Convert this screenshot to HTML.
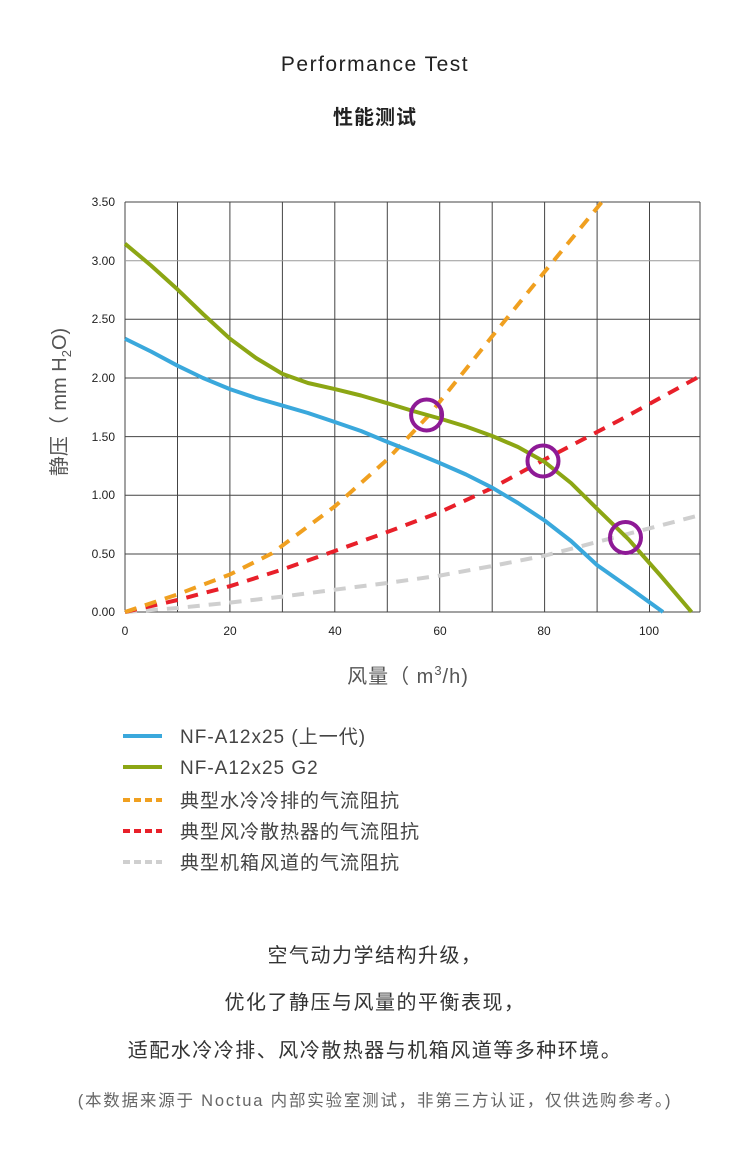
<!DOCTYPE html>
<html><head><meta charset="utf-8"><style>
body{margin:0;background:#fff;width:750px;height:1152px;overflow:hidden;font-family:"Liberation Sans","Noto Sans CJK SC",sans-serif;}
.t{position:absolute;left:0;width:750px;text-align:center;color:#333}
</style></head><body>
<div class="t" style="top:53px;font-size:21px;color:#222;letter-spacing:1.5px">Performance Test</div>
<div class="t" style="top:101px;font-size:20px;font-weight:bold;color:#222;letter-spacing:1px">性能测试</div>
<svg width="750" height="1152" style="position:absolute;left:0;top:0" xmlns="http://www.w3.org/2000/svg">
<g stroke="#444" stroke-width="1">
<line x1="125" y1="202" x2="125" y2="612"/><line x1="177.5" y1="202" x2="177.5" y2="612"/><line x1="229.9" y1="202" x2="229.9" y2="612"/><line x1="282.4" y1="202" x2="282.4" y2="612"/><line x1="334.8" y1="202" x2="334.8" y2="612"/><line x1="387.3" y1="202" x2="387.3" y2="612"/><line x1="439.7" y1="202" x2="439.7" y2="612"/><line x1="492.2" y1="202" x2="492.2" y2="612"/><line x1="544.6" y1="202" x2="544.6" y2="612"/><line x1="597.1" y1="202" x2="597.1" y2="612"/><line x1="649.5" y1="202" x2="649.5" y2="612"/><line x1="700" y1="202" x2="700" y2="612"/>
<line x1="125" y1="202" x2="700" y2="202"/><line x1="125" y1="260.7" x2="700" y2="260.7" stroke="#999"/><line x1="125" y1="319.3" x2="700" y2="319.3"/><line x1="125" y1="378" x2="700" y2="378"/><line x1="125" y1="436.6" x2="700" y2="436.6"/><line x1="125" y1="495.3" x2="700" y2="495.3"/><line x1="125" y1="554" x2="700" y2="554"/><line x1="125" y1="612" x2="700" y2="612"/>
</g>
<g font-size="12" fill="#222" text-anchor="end" font-family="Liberation Sans,sans-serif">
<text x="115" y="206">3.50</text><text x="115" y="265">3.00</text><text x="115" y="323">2.50</text><text x="115" y="382">2.00</text><text x="115" y="441">1.50</text><text x="115" y="499">1.00</text><text x="115" y="558">0.50</text><text x="115" y="616">0.00</text>
</g>
<g font-size="12" fill="#222" text-anchor="middle">
<text x="125" y="635">0</text><text x="230" y="635">20</text><text x="335" y="635">40</text><text x="440" y="635">60</text><text x="544" y="635">80</text><text x="649" y="635">100</text>
</g>
<defs><clipPath id="c"><rect x="124" y="200" width="576" height="414"/></clipPath></defs>
<g clip-path="url(#c)" fill="none" stroke-linecap="butt" stroke-linejoin="round" stroke-width="4">
<polyline stroke="#cfcfcf" stroke-dasharray="12,9" points="125,612 177.5,608 229.9,602.6 282.4,596.6 334.8,589.7 387.3,583 439.7,575.6 492.2,566 544.6,555.7 597.1,542 702,514.6"/>
<polyline stroke="#e8202a" stroke-dasharray="12,9" points="125,612 177.5,600 229.9,586.2 282.4,569.5 334.8,551 387.3,532 439.7,512.3 492.2,488 544.6,459.5 620,420 702,375"/>
<polyline stroke="#f0a020" stroke-dasharray="12,9" points="125,612 177.5,594.4 229.9,574.5 271.9,553.4 334.8,506.4 387.3,459.5 429.2,414.9 492.2,336.3 544.6,271.8 602.3,201.5"/>
<polyline stroke="#3aa8dc" points="125,338.7 151,351.5 177.5,365.7 203,378 229.9,389.1 256,398 282.4,405.6 308,413 334.8,422 361,431 387.3,441.9 413,452 439.7,463 466,474.5 492.2,487.7 518,503 544.6,520.5 571,541 597.1,565.1 631,589 663,612"/>
<polyline stroke="#8ca614" points="125,243.7 151,265.5 177.5,289.4 203,314 229.9,338.7 256,358 282.4,373.9 308,383 334.8,389.1 361,395.5 387.3,403.2 413,411 439.7,418.5 466,426.5 492.2,436 518,447 544.6,461.9 571,483 597.1,508.8 628.5,539.3 660,575 691.5,612"/>
</g>
<g fill="none" stroke="#8e1a96" stroke-width="4">
<circle cx="426.6" cy="415" r="15.5"/><circle cx="543" cy="461" r="15.5"/><circle cx="625.5" cy="537.5" r="15.5"/>
</g>
<text transform="translate(66,402) rotate(-90)" text-anchor="middle" font-size="20" fill="#555">静压（ mm H<tspan font-size="13" dy="5">2</tspan><tspan dy="-5">O)</tspan></text>
<text x="408" y="683" text-anchor="middle" font-size="20" fill="#555" letter-spacing="1">风量（ m<tspan font-size="13" dy="-8">3</tspan><tspan dy="8">/h)</tspan></text>
<g stroke-width="4">
<line x1="123" y1="736" x2="162" y2="736" stroke="#3aa8dc"/>
<line x1="123" y1="767" x2="162" y2="767" stroke="#8ca614"/>
<line x1="123" y1="800" x2="162" y2="800" stroke="#f0a020" stroke-dasharray="7,4"/>
<line x1="123" y1="831" x2="162" y2="831" stroke="#e8202a" stroke-dasharray="7,4"/>
<line x1="123" y1="862" x2="162" y2="862" stroke="#cfcfcf" stroke-dasharray="7,4"/>
</g>
<g font-size="19" fill="#444" letter-spacing="1">
<text x="180" y="743">NF-A12x25 (上一代)</text>
<text x="180" y="774">NF-A12x25 G2</text>
<text x="180" y="807">典型水冷冷排的气流阻抗</text>
<text x="180" y="838">典型风冷散热器的气流阻抗</text>
<text x="180" y="869">典型机箱风道的气流阻抗</text>
</g>
<g font-size="20" fill="#333" text-anchor="middle" letter-spacing="1.5">
<text x="375" y="962">空气动力学结构升级，</text>
<text x="375" y="1009">优化了静压与风量的平衡表现，</text>
<text x="375" y="1057">适配水冷冷排、风冷散热器与机箱风道等多种环境。</text>
<text x="375" y="1106" font-size="16.5" fill="#666" letter-spacing="1.8">(本数据来源于 Noctua 内部实验室测试，非第三方认证，仅供选购参考。)</text>
</g>
</svg>
</body></html>
